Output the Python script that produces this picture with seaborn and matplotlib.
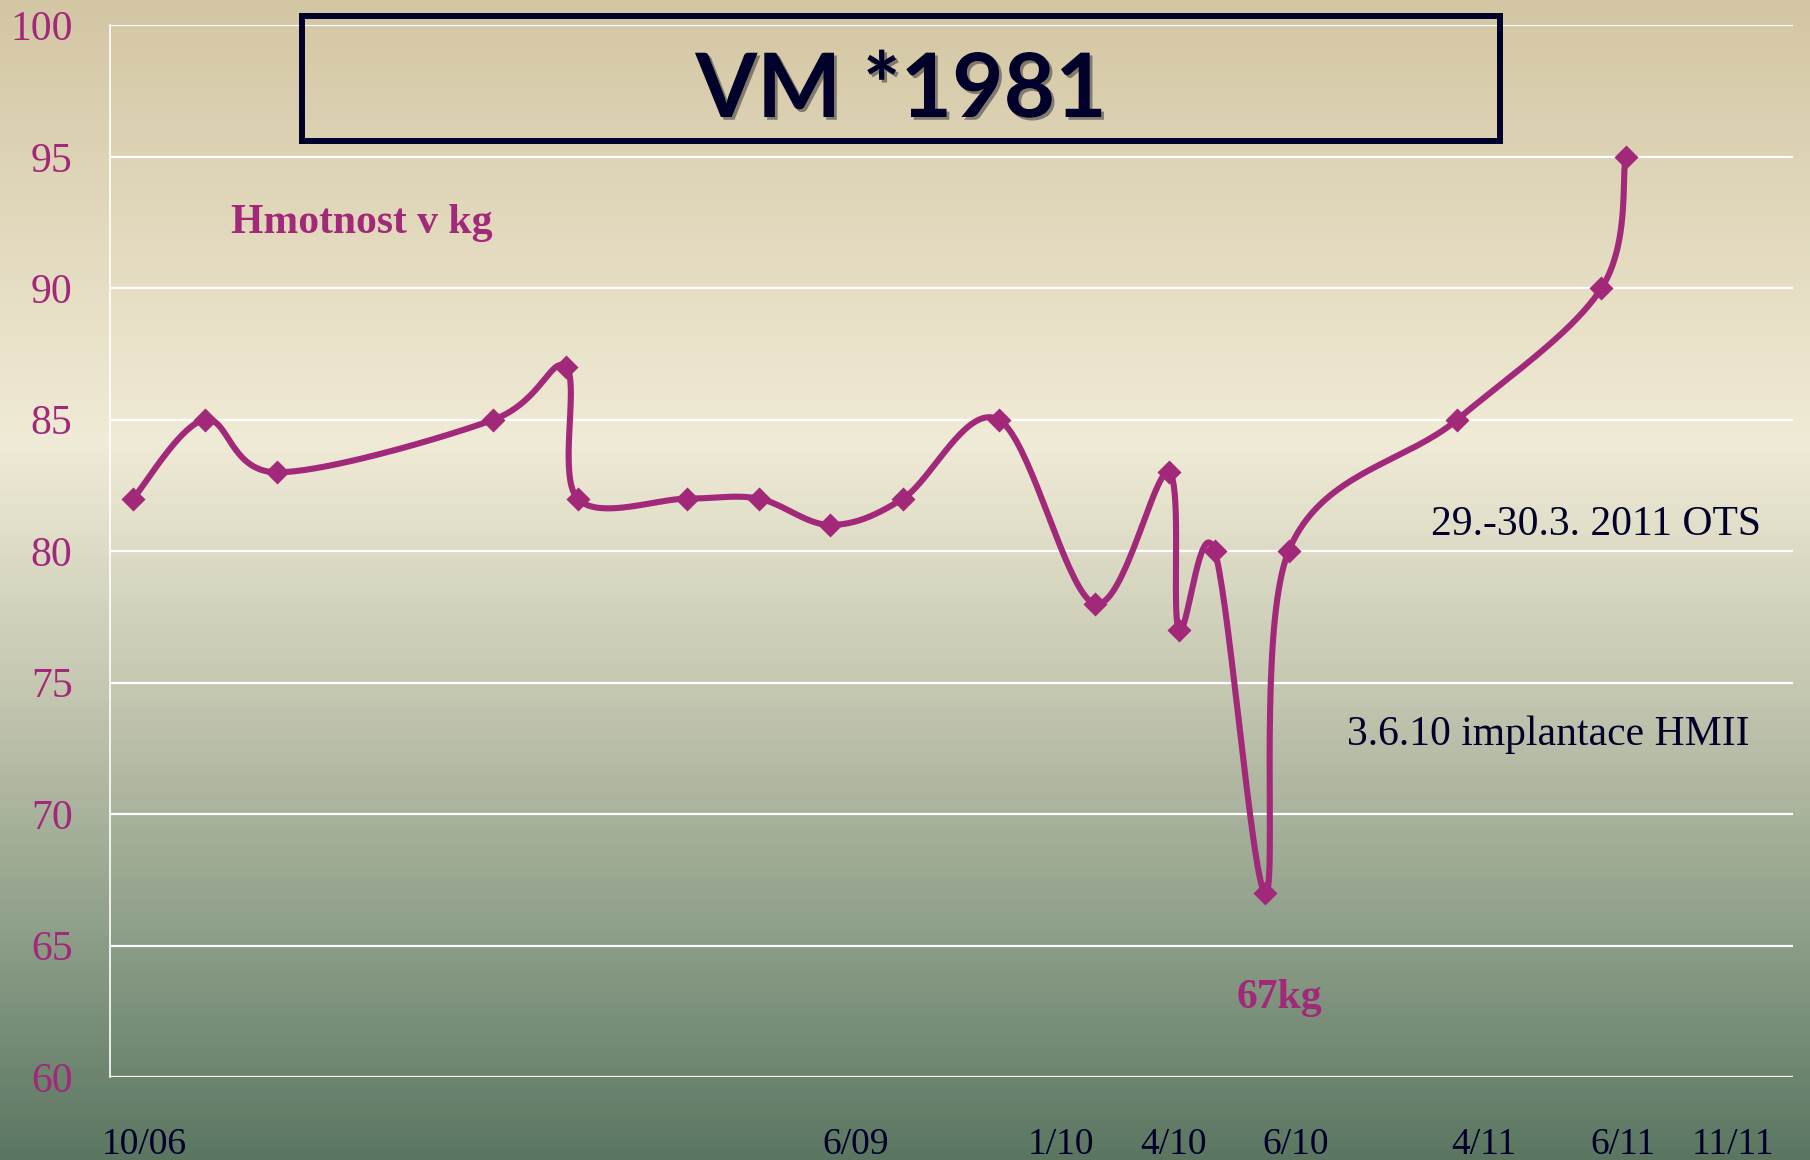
import numpy as np
import matplotlib
matplotlib.use("Agg")
import matplotlib.pyplot as plt
import seaborn as sns
import pandas as pd
from matplotlib.colors import LinearSegmentedColormap
from matplotlib.patches import Rectangle
import matplotlib.patheffects as pe

# data (x = position along the time axis)
pos = [20, 82, 145, 332, 395, 405, 500, 562, 624, 687, 770, 853, 917, 926,
       957, 1001, 1021, 1167, 1292, 1313]
weight = [82, 85, 83, 85, 87, 82, 82, 82, 81, 82, 85, 78, 83, 77, 80, 67,
          80, 85, 90, 95]
tick_pos = [30, 646, 824, 921, 1027, 1190, 1311, 1406]
tick_labels = ['10/06', '6/09', '1/10', '4/10', '6/10', '4/11', '6/11', '11/11']

MAGENTA = '#A2287A'
NAVY = '#00002A'


def smooth(xs, ys, ky=22.78, n=40):
    # Excel-like smoothed line (Catmull-Rom as cubic Bezier), screen-ish space
    P = np.column_stack([np.asarray(xs, float), np.asarray(ys, float) * ky])
    out = []
    for i in range(len(P) - 1):
        p0 = P[i - 1] if i > 0 else P[i]
        p1, p2 = P[i], P[i + 1]
        p3 = P[i + 2] if i + 2 < len(P) else P[i + 1]
        c1 = p1 + (p2 - p0) / 6
        c2 = p2 - (p3 - p1) / 6
        t = np.linspace(0, 1, n)[:, None]
        seg = ((1 - t) ** 3) * p1 + 3 * ((1 - t) ** 2) * t * c1 \
            + 3 * (1 - t) * t ** 2 * c2 + t ** 3 * p2
        out.append(seg if i == 0 else seg[1:])
    out = np.vstack(out)
    return out[:, 0], out[:, 1] / ky


sns.set_style('white')
plt.rcParams['font.family'] = ['Liberation Serif', 'DejaVu Serif']

fig = plt.figure(figsize=(18.1, 11.6), dpi=100)

# background gradient
bg = fig.add_axes([0, 0, 1, 1], zorder=0)
grad_cmap = LinearSegmentedColormap.from_list('bg', [
    (0.0, '#D3C6A3'), (0.38, '#F0EBD6'), (0.6, '#C4C6B0'),
    (0.8, '#8FA08A'), (1.0, '#5A7661')])
bg.imshow(np.linspace(0, 1, 256)[:, None], aspect='auto', cmap=grad_cmap,
          extent=[0, 1, 0, 1])
bg.set_axis_off()

ax = fig.add_axes([110 / 1810, 1 - 1077 / 1160, (1793 - 110) / 1810,
                   (1077 - 25.4) / 1160], zorder=1)
ax.set_facecolor('none')

sx, sy = smooth(pos, weight)
curve = pd.DataFrame({'x': sx, 'y': sy})
pts = pd.DataFrame({'x': pos, 'y': weight})
sns.lineplot(data=curve, x='x', y='y', sort=False, color=MAGENTA,
             linewidth=4.4, ax=ax, zorder=3)
sns.scatterplot(data=pts, x='x', y='y', marker='D', s=150, color=MAGENTA,
                edgecolor=MAGENTA, linewidth=0, ax=ax, zorder=4)

ax.set_xlim(0, 1458)
ax.set_ylim(60, 100)
ax.set_yticks(range(60, 101, 5))
ax.set_xticks(tick_pos)
ax.set_xticklabels(tick_labels)
ax.set_xlabel('')
ax.set_ylabel('')
ax.yaxis.grid(True, color='white', linewidth=1.6)
ax.xaxis.grid(False)
for s in ['top', 'right', 'bottom']:
    ax.spines[s].set_visible(False)
ax.spines['left'].set_color('white')
ax.spines['left'].set_linewidth(1.2)
ax.tick_params(axis='y', length=10, width=1.6, color='white', pad=17,
               labelsize=30, labelcolor=MAGENTA)
ax.tick_params(axis='x', length=0, pad=36, labelsize=27, labelcolor=NAVY)

ax.text(105, 92.5, 'Hmotnost v kg', color=MAGENTA, fontsize=30,
        fontweight='bold', ha='left', va='center')
ax.text(1430, 81.0, '29.-30.3. 2011 OTS', color=NAVY, fontsize=30,
        ha='right', va='center')
ax.text(1420, 73.0, '3.6.10 implantace HMII', color=NAVY, fontsize=30,
        ha='right', va='center')
ax.text(1013, 63.0, '67kg', color=MAGENTA, fontsize=30, fontweight='bold',
        ha='center', va='center')

# title box
fig.patches.append(Rectangle((302 / 1810, 1 - 141 / 1160), 1198 / 1810,
                             125 / 1160, transform=fig.transFigure,
                             fill=False, edgecolor=NAVY, linewidth=4.3,
                             zorder=5))
fig.text(901 / 1810, 1 - 91 / 1160, 'VM *1981', family=['Lato', 'DejaVu Sans'],
         fontweight='bold', fontsize=64, color=NAVY, ha='center', va='center',
         zorder=6,
         path_effects=[pe.withSimplePatchShadow(offset=(2, -2), alpha=0.4)])

fig.savefig('out.png', dpi=100)
